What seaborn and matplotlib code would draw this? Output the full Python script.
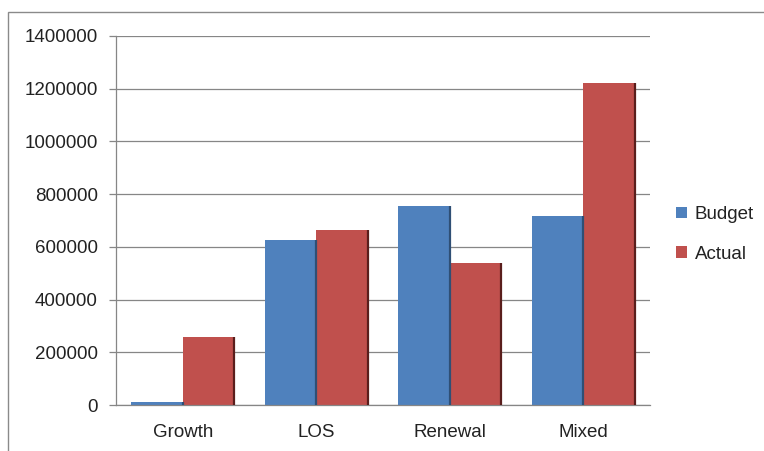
import pandas as pd
import seaborn as sns
import matplotlib.pyplot as plt
from matplotlib.patches import Rectangle
from matplotlib.ticker import FuncFormatter

# values
categories = ["Growth", "LOS", "Renewal", "Mixed"]
budget = [10000, 627000, 755000, 717000]
actual = [257000, 665000, 540000, 1221000]
series = ["Budget", "Actual"]
colors = ["#4F81BD", "#C0504D"]

df = pd.DataFrame({"category": categories * 2,
                   "value": budget + actual,
                   "series": ["Budget"] * 4 + ["Actual"] * 4})

sns.set_style("white")
plt.rcParams['font.family'] = ['Liberation Sans', 'DejaVu Sans']

fig = plt.figure(figsize=(7.64, 4.51), dpi=100)
ax = fig.add_axes([116/764, 1 - 405/451, (650 - 116)/764, (405 - 36)/451])

sns.barplot(data=df, x="category", y="value", hue="series", hue_order=series,
            order=categories, palette=colors, width=0.77, saturation=1,
            edgecolor="none", ax=ax)

# darker right edge like the excel bars
for p in ax.patches:
    if p.get_height() > 0:
        x = p.get_x() + p.get_width()
        ax.plot([x, x], [0, p.get_height()], color="#5a1e1c" if p.get_facecolor()[0] > 0.6 else "#2f4f75",
                lw=1.6, solid_capstyle="butt", zorder=3)

ax.set_ylim(0, 1400000)
ax.set_xlim(-0.5, 3.5)
ax.set_yticks(range(0, 1400001, 200000))
ax.yaxis.set_major_formatter(FuncFormatter(lambda v, pos: f"{int(v)}"))
ax.yaxis.grid(True, color="#868686", lw=0.9)
ax.set_axisbelow(True)

ax.set_xticks([-0.5, 0.5, 1.5, 2.5, 3.5], minor=True)
ax.tick_params(axis="x", which="major", length=0, pad=14, labelsize=13.5, colors="#222222")
ax.tick_params(axis="x", which="minor", length=6, color="#868686", width=0.9, direction="out")
ax.tick_params(axis="y", which="major", length=5, color="#868686", width=0.9, direction="out",
               labelsize=13.5, colors="#222222", left=True, pad=8)
ax.set_xlabel("")
ax.set_ylabel("")

for s in ["top", "right"]:
    ax.spines[s].set_visible(False)
for s in ["left", "bottom"]:
    ax.spines[s].set_color("#868686")
    ax.spines[s].set_linewidth(0.9)

leg = ax.legend(loc="center left", bbox_to_anchor=(1.035, 0.462), frameon=False, borderaxespad=0,
                fontsize=13.5, handlelength=0.55, handleheight=0.55, handletextpad=0.45,
                labelspacing=1.2)
for t in leg.get_texts():
    t.set_color("#222222")

# outer chart border
fig.patches.append(Rectangle((8/764, -0.05), 1.1, 1 - 12/451 + 0.05, transform=fig.transFigure,
                             fill=False, edgecolor="#8a8a8a", lw=1.0))

fig.savefig("out.png", dpi=100)
